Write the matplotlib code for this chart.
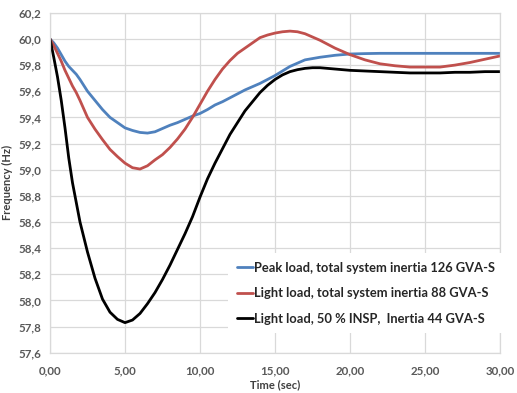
import matplotlib
matplotlib.use("Agg")
import matplotlib.pyplot as plt

time_s = [0, 0.25, 0.5, 0.75, 1.0, 1.25, 1.5, 1.75, 2.0, 2.5, 3.0, 3.5, 4.0, 4.5,
          5.0, 5.5, 6.0, 6.5, 7.0, 7.5, 8.0, 8.5, 9.0, 9.5, 10, 10.5, 11, 11.5,
          12, 12.5, 13, 13.5, 14, 14.5, 15, 15.5, 16, 16.5, 17, 17.5, 18, 19, 20,
          21, 22, 23, 24, 25, 26, 27, 28, 29, 30]

peak_126 = [60.00, 59.97, 59.93, 59.88, 59.83, 59.79, 59.76, 59.73, 59.69, 59.60,
            59.53, 59.46, 59.40, 59.36, 59.32, 59.30, 59.285, 59.28, 59.29, 59.315,
            59.34, 59.36, 59.385, 59.41, 59.43, 59.46, 59.495, 59.52, 59.55, 59.58,
            59.61, 59.635, 59.66, 59.69, 59.72, 59.755, 59.79, 59.815, 59.84, 59.85,
            59.86, 59.875, 59.885, 59.888, 59.89, 59.89, 59.89, 59.89, 59.89, 59.89,
            59.89, 59.89, 59.89]

light_88 = [60.00, 59.95, 59.89, 59.83, 59.76, 59.70, 59.64, 59.59, 59.53, 59.40,
            59.31, 59.23, 59.155, 59.10, 59.05, 59.015, 59.005, 59.03, 59.075, 59.115,
            59.17, 59.235, 59.31, 59.40, 59.50, 59.60, 59.69, 59.77, 59.835, 59.89,
            59.93, 59.97, 60.01, 60.03, 60.045, 60.055, 60.06, 60.055, 60.04, 60.015,
            59.99, 59.93, 59.88, 59.84, 59.81, 59.795, 59.785, 59.785, 59.785, 59.80,
            59.82, 59.845, 59.87]

light_44 = [60.00, 59.86, 59.71, 59.53, 59.32, 59.09, 58.90, 58.75, 58.60, 58.37,
            58.17, 58.01, 57.91, 57.855, 57.83, 57.85, 57.90, 57.975, 58.06, 58.16,
            58.27, 58.39, 58.51, 58.64, 58.79, 58.93, 59.05, 59.16, 59.27, 59.36,
            59.45, 59.52, 59.59, 59.645, 59.69, 59.725, 59.75, 59.765, 59.775, 59.78,
            59.78, 59.77, 59.76, 59.755, 59.75, 59.745, 59.74, 59.74, 59.74, 59.745,
            59.745, 59.75, 59.75]

series_labels = ["Peak load, total system inertia 126 GVA-S",
                 "Light load, total system inertia 88 GVA-S",
                 "Light load, 50 % INSP,  Inertia 44 GVA-S"]
series_colors = ["#4F81BD", "#C0504D", "#000000"]

x_ticks = [0, 5, 10, 15, 20, 25, 30]
x_ticklabels = ["0,00", "5,00", "10,00", "15,00", "20,00", "25,00", "30,00"]
y_ticks = [57.6, 57.8, 58.0, 58.2, 58.4, 58.6, 58.8, 59.0, 59.2, 59.4, 59.6, 59.8, 60.0, 60.2]
y_ticklabels = ["57,6", "57,8", "58,0", "58,2", "58,4", "58,6", "58,8", "59,0",
                "59,2", "59,4", "59,6", "59,8", "60,0", "60,2"]

plt.rcParams['font.family'] = ['Lato', 'DejaVu Sans']

fig = plt.figure(figsize=(5.17, 3.93), dpi=100)
ax = fig.add_axes([0.0967, 0.1025, 0.8704, 0.8649])

for vals, lab, col in zip([peak_126, light_88, light_44], series_labels, series_colors):
    ax.plot(time_s, vals, color=col, lw=2.0, label=lab, solid_capstyle='round',
            solid_joinstyle='round')

ax.set_xlim(0, 30)
ax.set_ylim(57.6, 60.2)
ax.set_xticks(x_ticks)
ax.set_xticklabels(x_ticklabels)
ax.set_yticks(y_ticks)
ax.set_yticklabels(y_ticklabels)
ax.grid(True, color="#d9d9d9", lw=0.9)
ax.set_axisbelow(True)
for sp in ax.spines.values():
    sp.set_color("#d9d9d9")
    sp.set_linewidth(0.9)
ax.tick_params(length=0, labelsize=8.3, labelcolor="#595959")
ax.tick_params(axis='x', pad=9)
ax.tick_params(axis='y', pad=6)
for t in ax.get_xticklabels() + ax.get_yticklabels():
    t.set_fontweight('bold')

ax.set_xlabel("Time (sec)", fontsize=8.0, fontweight='bold', color="#404040", labelpad=2)
ax.set_ylabel("Frequency (Hz)", fontsize=8.0, fontweight='bold', color="#404040", labelpad=4)

leg = ax.legend(loc='upper left', bbox_to_anchor=(0.396, 0.293), frameon=True,
                fancybox=False, edgecolor='none', facecolor='white', framealpha=1,
                prop={'family': 'Lato', 'weight': 'bold', 'size': 9.3},
                handlelength=1.3, handletextpad=0.05, labelspacing=1.05,
                borderpad=0.65, borderaxespad=0)
for txt in leg.get_texts():
    txt.set_color("#262626")
for h in leg.get_lines():
    h.set_linewidth(2.0)

fig.savefig("out.png", dpi=100)
